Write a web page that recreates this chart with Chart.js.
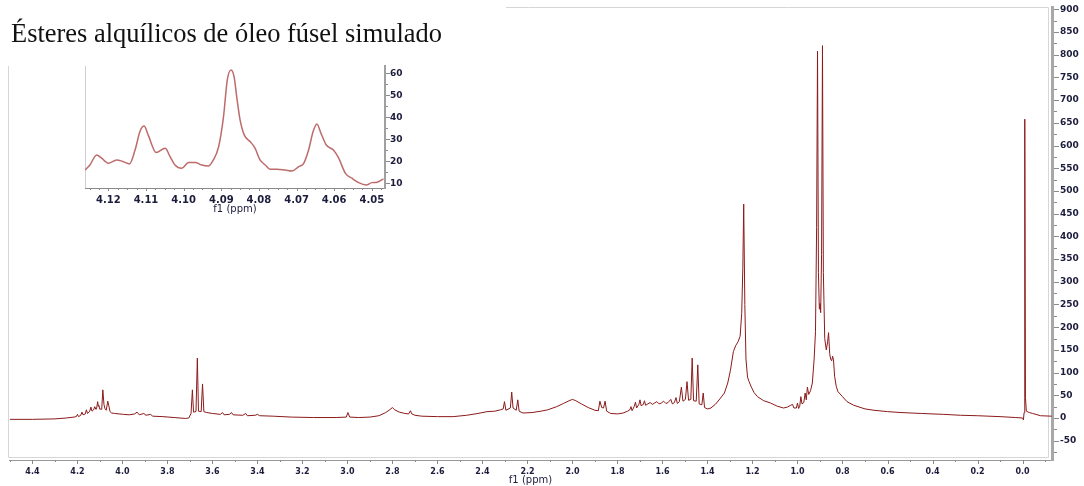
<!DOCTYPE html>
<html>
<head>
<meta charset="utf-8">
<script src="https://cdn.jsdelivr.net/npm/chart.js@4.4.1/dist/chart.umd.min.js"></script>
<style>
html,body{margin:0;padding:0;background:#ffffff;overflow:hidden;}
#wrap{position:relative;width:1084px;height:486px;}
#mainCanvas{position:absolute;left:0;top:0;}
#insetCanvas{position:absolute;left:80px;top:60px;}
</style>
</head>
<body>
<div id="wrap">
<canvas id="mainCanvas" width="1084" height="486"></canvas>
<canvas id="insetCanvas" width="330" height="160"></canvas>
</div>
<script>
const chartTitle = 'Ésteres alquílicos de óleo fúsel simulado';
const axisTitle = 'f1 (ppm)';

const mainShift = [4.50,4.40,4.30,4.25,4.215,4.205,4.200,4.195,4.185,4.180,4.175,4.165,4.160,4.155,4.146,4.140,4.135,4.128,4.123,4.118,4.115,4.110,4.107,4.105,4.100,4.096,4.092,4.087,4.082,4.078,4.072,4.065,4.060,4.055,4.048,4.035,4.015,3.995,3.97,3.945,3.935,3.925,3.905,3.895,3.875,3.865,3.82,3.77,3.72,3.705,3.695,3.689,3.684,3.673,3.667,3.662,3.650,3.644,3.638,3.625,3.60,3.565,3.555,3.548,3.525,3.515,3.508,3.465,3.452,3.445,3.41,3.40,3.39,3.33,3.25,3.15,3.05,3.005,2.998,2.990,2.95,2.90,2.86,2.83,2.815,2.80,2.79,2.77,2.745,2.728,2.720,2.714,2.70,2.67,2.60,2.53,2.47,2.42,2.38,2.345,2.32,2.308,2.302,2.296,2.276,2.270,2.264,2.250,2.243,2.237,2.22,2.18,2.14,2.11,2.07,2.04,2.015,2.000,1.985,1.96,1.93,1.90,1.885,1.878,1.870,1.862,1.855,1.848,1.83,1.80,1.775,1.755,1.745,1.740,1.735,1.725,1.720,1.715,1.705,1.700,1.695,1.685,1.680,1.675,1.665,1.655,1.645,1.635,1.625,1.615,1.605,1.595,1.585,1.575,1.563,1.556,1.547,1.540,1.534,1.525,1.516,1.509,1.498,1.491,1.484,1.474,1.468,1.462,1.450,1.443,1.437,1.425,1.419,1.413,1.40,1.385,1.365,1.345,1.325,1.310,1.298,1.285,1.274,1.264,1.255,1.248,1.243,1.239,1.234,1.229,1.222,1.215,1.205,1.193,1.178,1.150,1.120,1.090,1.062,1.045,1.030,1.022,1.016,1.005,1.000,0.995,0.990,0.985,0.980,0.972,0.966,0.961,0.956,0.950,0.942,0.934,0.926,0.920,0.915,0.911,0.907,0.903,0.900,0.897,0.893,0.889,0.885,0.879,0.872,0.866,0.862,0.857,0.853,0.848,0.844,0.840,0.835,0.828,0.820,0.800,0.780,0.750,0.700,0.660,0.600,0.540,0.450,0.350,0.275,0.200,0.100,0.030,0.000,-0.004,-0.007,-0.010,-0.013,-0.017,-0.030,-0.045,-0.080,-0.130];
const mainIntensity = [-3,-3,-2,0,2,3,8,3,6,13,7,9,18,10,14,24,15,18,25,19,20,36,26,28,19,20,19,62,30,21,17,37,26,14,11,10,9,8,7,9,13,7,10,6,8,4,3,1,-1,0,10,62,13,14,132,15,14,75,14,12,10,8,12,7,8,12,7,6,10,5,6,8,5,4,2,1,1,2,12,2,1,2,5,12,17,23,18,13,10,9,16,9,6,4,3,3,6,10,14,15,18,20,36,17,22,57,22,17,40,15,11,12,15,18,25,32,38,41,38,31,23,17,16,37,23,22,37,15,10,9,11,15,18,25,16,26,35,22,30,40,27,30,38,28,31,34,30,33,36,31,33,37,32,34,41,31,34,45,32,36,68,37,41,80,39,41,132,38,37,117,31,29,55,23,20,22,30,42,55,77,105,146,160,168,180,230,330,471,250,130,90,80,68,56,47,38,33,26,22,24,28,30,22,22,33,21,26,47,31,34,55,40,68,52,60,77,130,190,420,808,320,240,252,232,360,820,320,175,150,168,188,142,130,126,136,128,92,70,58,47,36,28,20,17,14,12,10,8,6,5,3,1,0,-4,12,658,45,15,12,10,5,4];

const insetShift = [4.1262,4.1249,4.1231,4.1218,4.1200,4.1178,4.1160,4.1144,4.1129,4.1116,4.1105,4.1094,4.1073,4.1049,4.1036,4.1023,4.1005,4.0987,4.0969,4.0952,4.0934,4.0921,4.0907,4.0894,4.0884,4.0874,4.0866,4.0859,4.0850,4.0839,4.0823,4.0810,4.0797,4.0783,4.0770,4.0752,4.0730,4.0712,4.0695,4.0681,4.0668,4.0656,4.0646,4.0635,4.0621,4.0602,4.0588,4.0570,4.0553,4.0535,4.0515,4.0500,4.0486,4.0469];
const insetIntensity = [16.0,18.3,22.9,21.4,19.1,20.6,19.8,18.8,25.1,33.5,36.0,31.9,24.0,25.9,22.1,18.3,16.8,19.4,19.4,18.3,17.9,20.6,26.6,40.3,57.0,61.5,58.5,49.4,38.8,32.0,28.9,25.9,20.6,18.3,16.4,16.4,16.0,15.6,17.5,19.1,25.1,33.5,37.0,32.7,27.4,25.1,21.4,14.5,12.3,10.3,9.2,10.3,10.5,12.0];

const mainXTicks = [4.4,4.2,4.0,3.8,3.6,3.4,3.2,3.0,2.8,2.6,2.4,2.2,2.0,1.8,1.6,1.4,1.2,1.0,0.8,0.6,0.4,0.2,0.0];
const mainYTicks = [-50,0,50,100,150,200,250,300,350,400,450,500,550,600,650,700,750,800,850,900];
const insetXTicks = [4.12,4.11,4.10,4.09,4.08,4.07,4.06,4.05];
const insetYTicks = [10,20,30,40,50,60];

const labelColor = '#1c1c3c';

function withMinor(majors, div, lo, hi) {
  const s = majors.slice().sort((a, b) => a - b);
  const step = (s[1] - s[0]) / div;
  const start = s[0] - div * step, end = s[s.length - 1] + div * step;
  const n = Math.round((end - start) / step);
  const out = [];
  for (let i = 0; i <= n; i++) {
    const v = +(start + i * step).toFixed(6);
    if (v < lo - 1e-9 || v > hi + 1e-9) continue;
    const isMajor = s.some(m => Math.abs(m - v) < step * 1e-3);
    out.push({ value: v, minor: !isMajor });
  }
  return out;
}

function tickPainter(o) {
  return {
    id: 'tickPainter',
    afterDraw(chart) {
      const ctx = chart.ctx, xs = chart.scales.x, ys = chart.scales.y;
      ctx.save();
      ctx.strokeStyle = o.color;
      ctx.lineWidth = 1;
      ctx.beginPath();
      xs.ticks.forEach(t => {
        const px = Math.round(xs.getPixelForValue(t.value)) + 0.5;
        ctx.moveTo(px, xs.top);
        ctx.lineTo(px, xs.top + (t.minor ? o.xMinor : o.xMajor));
      });
      ys.ticks.forEach(t => {
        const py = Math.round(ys.getPixelForValue(t.value)) + 0.5;
        ctx.moveTo(ys.left + o.yOff, py);
        ctx.lineTo(ys.left + o.yOff + (t.minor ? o.yMinor : o.yMajor), py);
      });
      ctx.stroke();
      ctx.restore();
    }
  };
}

const mainFrame = {
  id: 'mainFrame',
  beforeDatasetsDraw(chart) {
    const a = chart.chartArea, ctx = chart.ctx;
    ctx.save();
    ctx.strokeStyle = '#d6d6d6';
    ctx.lineWidth = 1;
    const l = a.left - 0.5, t = a.top + 0.5, r = a.right - 3.5, b = a.bottom - 2.5;
    ctx.beginPath();
    ctx.moveTo(l, b); ctx.lineTo(l, t); ctx.lineTo(r, t); ctx.lineTo(r, b); ctx.closePath();
    ctx.stroke();
    ctx.restore();
  }
};

const titleBox = {
  id: 'titleBox',
  afterDraw(chart) {
    const ctx = chart.ctx;
    ctx.save();
    ctx.fillStyle = '#ffffff';
    ctx.fillRect(0, 0, 506, 66);
    ctx.font = '24px "Liberation Serif"';
    const w = ctx.measureText(chartTitle).width;
    const size = 24 * 431 / w;
    ctx.font = size.toFixed(2) + 'px "Liberation Serif"';
    ctx.fillStyle = '#111111';
    ctx.textBaseline = 'alphabetic';
    ctx.fillText(chartTitle, 11, 41.5);
    ctx.restore();
  }
};

const insetFrame = {
  id: 'insetFrame',
  beforeDatasetsDraw(chart) {
    const a = chart.chartArea, ctx = chart.ctx;
    ctx.save();
    ctx.strokeStyle = '#d0d0d0';
    ctx.lineWidth = 1;
    ctx.beginPath();
    ctx.moveTo(a.left + 0.5, a.top);
    ctx.lineTo(a.left + 0.5, a.bottom);
    ctx.stroke();
    ctx.restore();
  }
};

new Chart(document.getElementById('mainCanvas'), {
  type: 'scatter',
  data: {
    datasets: [{
      data: mainShift.map((x, i) => ({ x: x, y: mainIntensity[i] })),
      showLine: true,
      borderColor: '#8b1a1a',
      borderWidth: 1,
      pointRadius: 0,
      tension: 0
    }]
  },
  options: {
    responsive: false,
    animation: false,
    devicePixelRatio: 1,
    layout: { padding: { left: 9, top: 7, right: 0, bottom: 0 } },
    plugins: { legend: { display: false }, tooltip: { enabled: false } },
    scales: {
      x: {
        type: 'linear', reverse: true, min: -0.131, max: 4.504, position: 'bottom',
        afterBuildTicks: s => { s.ticks = withMinor(mainXTicks, 2, s.min, s.max); },
        afterFit: s => { s.height = 26; s.paddingLeft = 0; s.paddingRight = 0; },
        grid: { display: true, drawOnChartArea: false, drawTicks: false },
        border: { display: true, color: '#9a9a9a', width: 1 },
        ticks: {
          autoSkip: false, maxRotation: 0, minRotation: 0, padding: 7, color: labelColor,
          font: { family: 'DejaVu Sans', size: 8, weight: 'bold' },
          callback: (v, i, t) => t[i].minor ? '' : Number(v).toFixed(1)
        },
        title: { display: true, text: axisTitle, color: labelColor, font: { family: 'DejaVu Sans', size: 10 }, padding: { top: 0, bottom: 0 } }
      },
      y: {
        type: 'linear', position: 'right', min: -92.5, max: 905.1,
        afterBuildTicks: s => { s.ticks = withMinor(mainYTicks, 2, s.min, s.max); },
        afterFit: s => { s.width = 32; s.paddingTop = 0; s.paddingBottom = 0; },
        grid: { display: true, drawOnChartArea: false, drawTicks: false },
        border: { display: true, color: '#a8a8a8', width: 3 },
        ticks: {
          autoSkip: false, padding: 8, color: labelColor,
          font: { family: 'DejaVu Sans', size: 9, weight: 'bold' },
          callback: (v, i, t) => t[i].minor ? '' : String(Math.round(v))
        }
      }
    }
  },
  plugins: [mainFrame, tickPainter({ color: '#8a8a8a', xMajor: 4, xMinor: 2, yMajor: 5, yMinor: 3, yOff: 2 }), titleBox]
});

new Chart(document.getElementById('insetCanvas'), {
  type: 'scatter',
  data: {
    datasets: [{
      data: insetShift.map((x, i) => ({ x: x, y: insetIntensity[i] })),
      showLine: true,
      borderColor: '#bd6b6b',
      borderWidth: 1.5,
      pointRadius: 0,
      cubicInterpolationMode: 'monotone'
    }]
  },
  options: {
    responsive: false,
    animation: false,
    devicePixelRatio: 1,
    layout: { padding: { left: 5, top: 6, right: 0, bottom: 0 } },
    plugins: { legend: { display: false }, tooltip: { enabled: false } },
    scales: {
      x: {
        type: 'linear', reverse: true, min: 4.0465, max: 4.1262, position: 'bottom',
        afterBuildTicks: s => { s.ticks = withMinor(insetXTicks, 4, s.min, s.max); },
        afterFit: s => { s.height = 32; s.paddingLeft = 0; s.paddingRight = 0; },
        grid: { display: true, drawOnChartArea: false, drawTicks: false },
        border: { display: true, color: '#8a8a8a', width: 1 },
        ticks: {
          autoSkip: false, maxRotation: 0, minRotation: 0, padding: 6, color: labelColor,
          font: { family: 'DejaVu Sans', size: 10, weight: 'bold' },
          callback: (v, i, t) => t[i].minor ? '' : Number(v).toFixed(2)
        },
        title: { display: true, text: axisTitle, color: labelColor, font: { family: 'DejaVu Sans', size: 10 }, padding: { top: 0, bottom: 5 } }
      },
      y: {
        type: 'linear', position: 'right', min: 7.86, max: 63.3,
        afterBuildTicks: s => { s.ticks = withMinor(insetYTicks, 2, s.min, s.max); },
        afterFit: s => { s.width = 25; s.paddingTop = 0; s.paddingBottom = 0; },
        grid: { display: true, drawOnChartArea: false, drawTicks: false },
        border: { display: true, color: '#a0a0a0', width: 2 },
        ticks: {
          autoSkip: false, padding: 5, color: labelColor,
          font: { family: 'DejaVu Sans', size: 9, weight: 'bold' },
          callback: (v, i, t) => t[i].minor ? '' : String(Math.round(v))
        }
      }
    }
  },
  plugins: [insetFrame, tickPainter({ color: '#8a8a8a', xMajor: 3, xMinor: 2, yMajor: 4, yMinor: 2, yOff: 1 })]
});
</script>
</body>
</html>
